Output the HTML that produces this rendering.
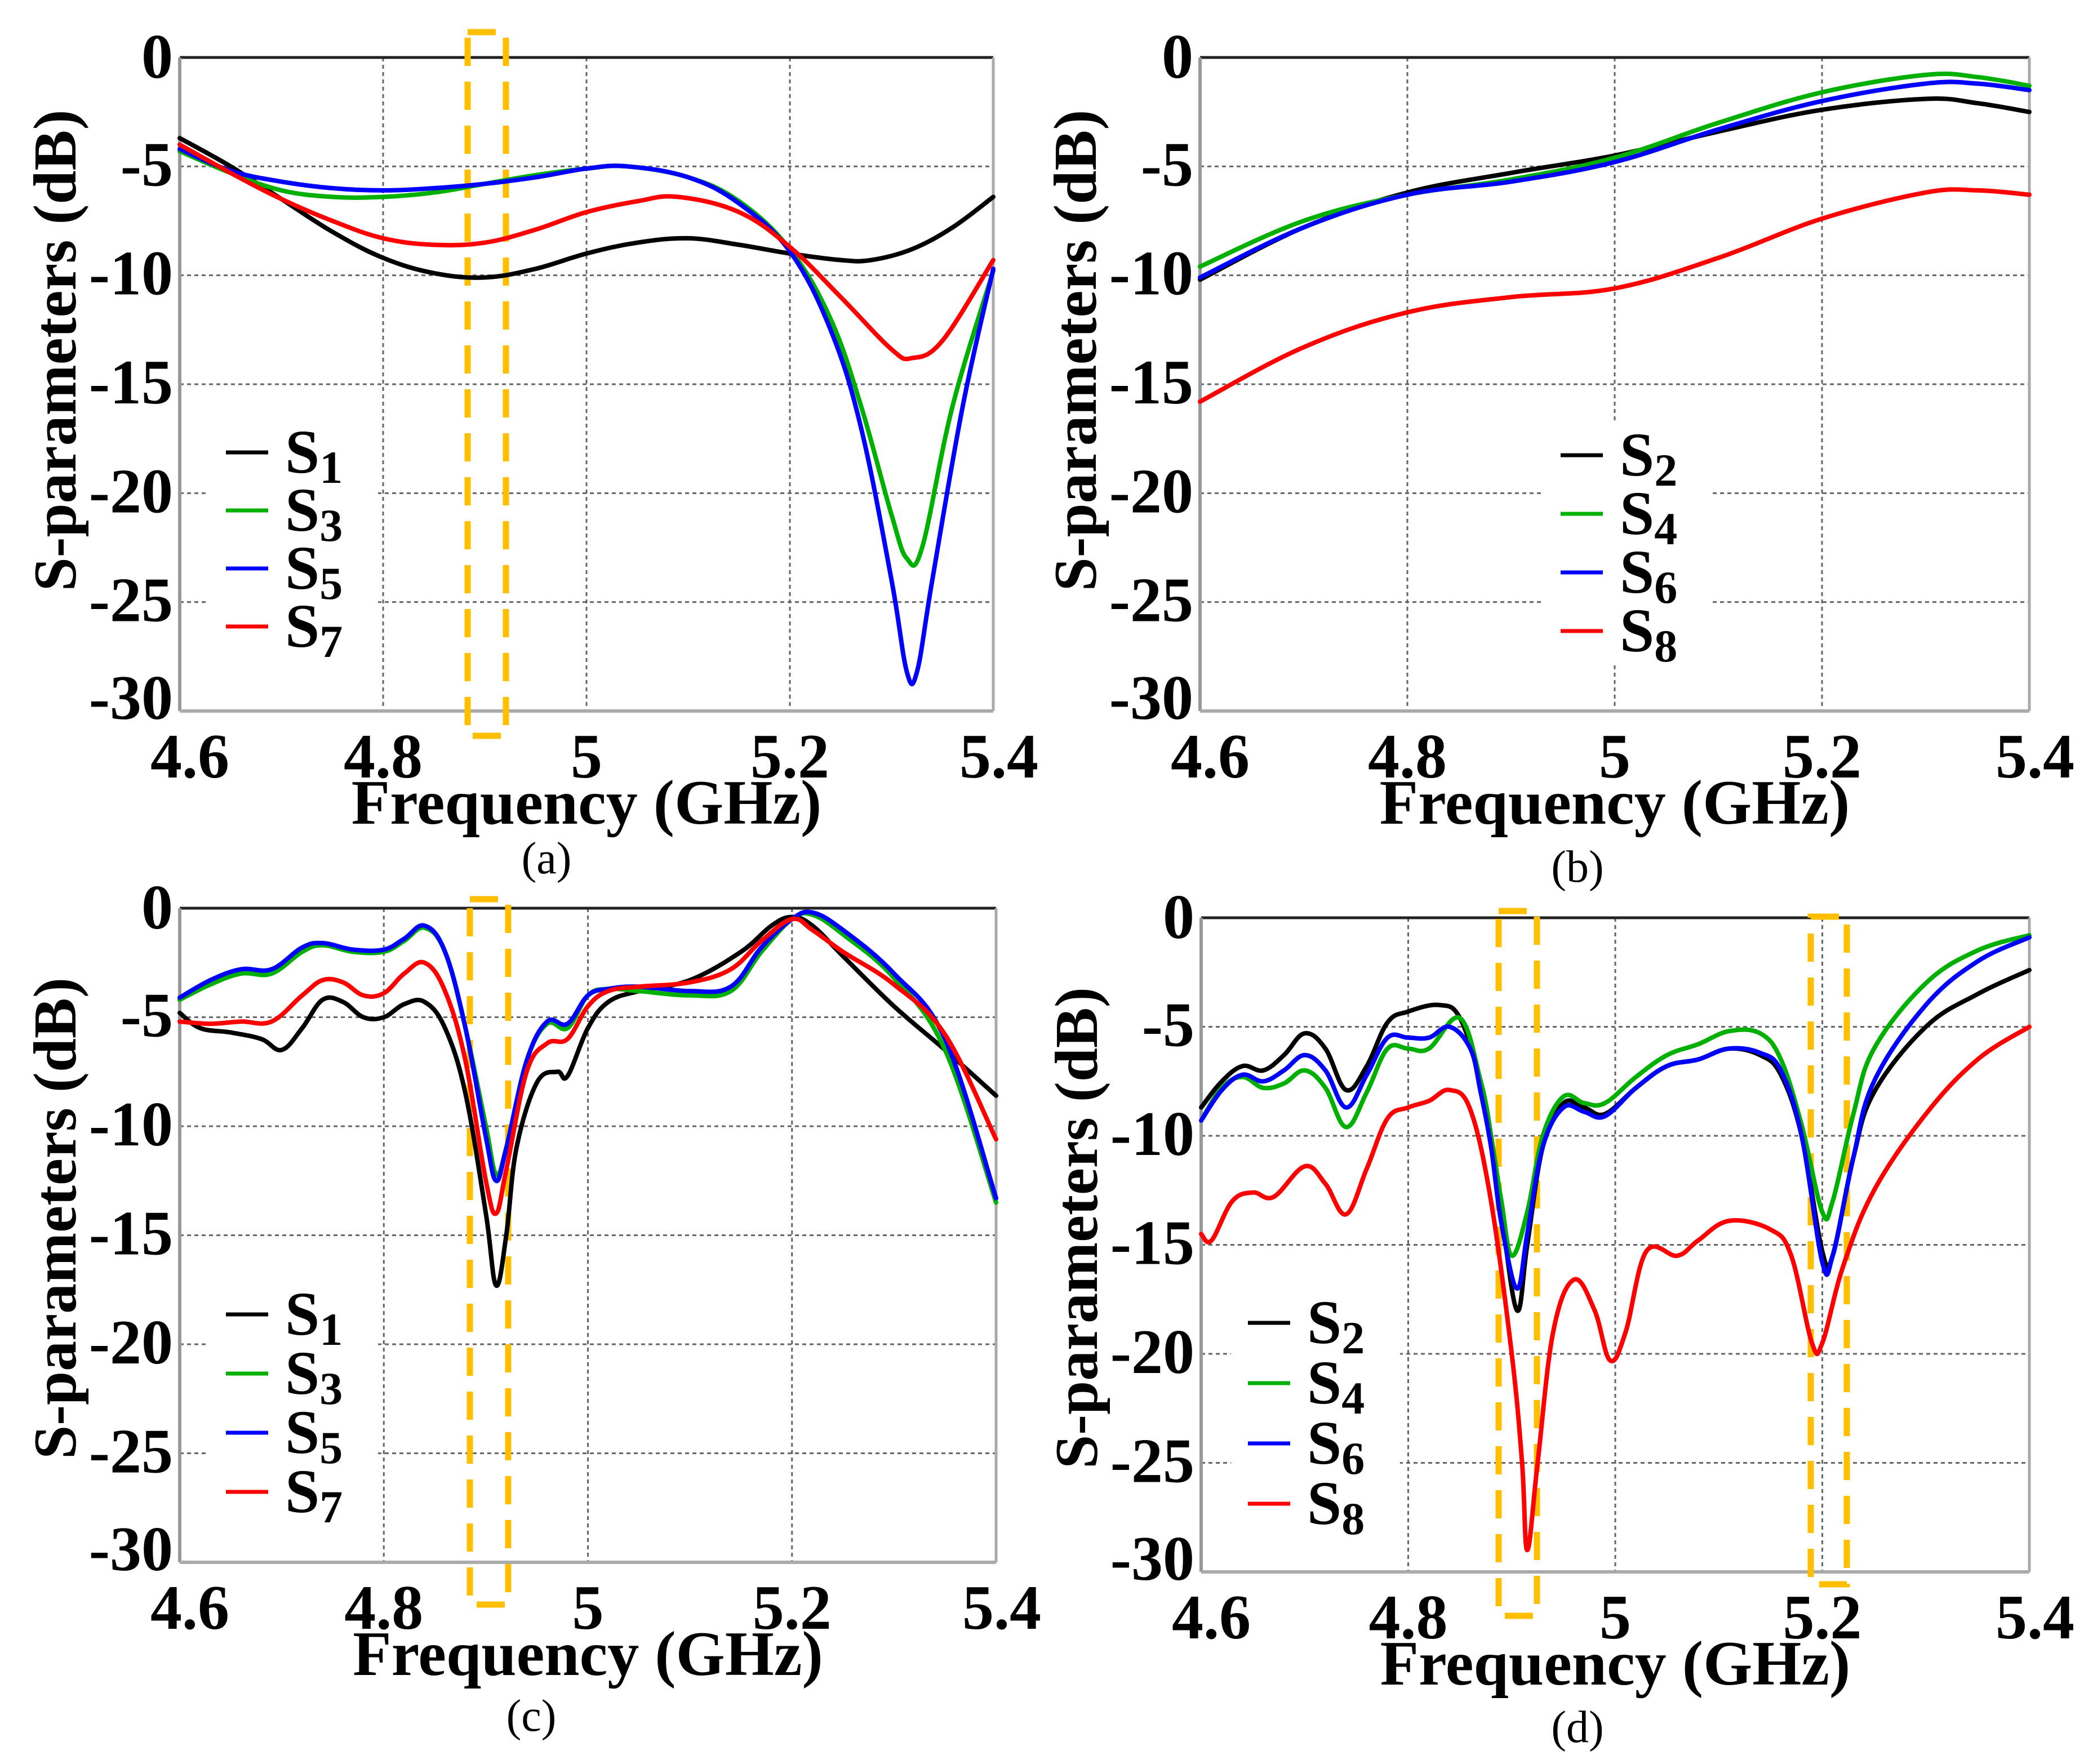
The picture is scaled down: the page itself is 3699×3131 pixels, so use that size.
<!DOCTYPE html>
<html><head><meta charset="utf-8"><style>
html,body{margin:0;padding:0;background:#fff}
svg{display:block}
svg text{font-family:"Liberation Serif","Times New Roman",serif}
</style></head><body>
<svg id="chart" width="3699" height="3131" viewBox="0 0 3699 3131" xmlns="http://www.w3.org/2000/svg" font-family="Liberation Serif, serif">
<rect width="3699" height="3131" fill="#fff"/>
</svg>
<script>
// ---- shared axis data ----
const xTicks = [4.6, 4.8, 5.0, 5.2, 5.4];
const xTickLabels = ["4.6", "4.8", "5", "5.2", "5.4"];
const yTicks = [0, -5, -10, -15, -20, -25, -30];
const yTickLabels = ["0", "-5", "-10", "-15", "-20", "-25", "-30"];

// ---- panel (a) ----
const aS1f = [4.6,4.65,4.7,4.75,4.8,4.85,4.9,4.95,5.0,5.05,5.1,5.15,5.2,5.25,5.28,5.32,5.36,5.4];
const aS1v = [-3.7,-5,-6.5,-8,-9.2,-9.9,-10.1,-9.7,-9,-8.5,-8.3,-8.6,-9.0,-9.3,-9.3,-8.8,-7.8,-6.4];
const aS3f = [4.6,4.65,4.7,4.75,4.8,4.85,4.9,4.95,5.0,5.04,5.1,5.15,5.2,5.24,5.27,5.3,5.315,5.33,5.36,5.4];
const aS3v = [-4.3,-5.3,-6.1,-6.4,-6.4,-6.2,-5.8,-5.4,-5.1,-5.0,-5.5,-6.6,-8.8,-12,-16,-21,-23,-22.5,-16,-9.8];
const aS5f = [4.6,4.65,4.7,4.75,4.8,4.85,4.9,4.95,5.0,5.04,5.1,5.15,5.2,5.24,5.27,5.3,5.315,5.325,5.34,5.37,5.4];
const aS5v = [-4.2,-5.2,-5.7,-6.0,-6.1,-6.0,-5.8,-5.5,-5.1,-5.0,-5.5,-6.7,-8.9,-12.5,-17,-24,-28.2,-28.2,-24,-16,-9.7];
const aS7f = [4.6,4.65,4.7,4.75,4.8,4.85,4.9,4.95,5.0,5.05,5.09,5.15,5.2,5.25,5.3,5.32,5.35,5.4];
const aS7v = [-4.0,-5.3,-6.5,-7.5,-8.3,-8.6,-8.5,-7.9,-7.1,-6.6,-6.4,-7.1,-8.7,-11,-13.4,-13.8,-13.0,-9.3];

// ---- panel (b) ----
const bF = [4.6,4.7,4.8,4.9,5.0,5.1,5.2,5.3,5.35,5.4];
const bS2v = [-10.2,-7.8,-6.2,-5.3,-4.5,-3.4,-2.4,-1.9,-2.1,-2.5];
const bS4v = [-9.6,-7.5,-6.3,-5.6,-4.6,-3.0,-1.6,-0.8,-0.9,-1.3];
const bS6v = [-10.1,-7.8,-6.3,-5.7,-4.8,-3.3,-2.0,-1.2,-1.2,-1.5];
const bS8v = [-15.8,-13.3,-11.7,-11.0,-10.6,-9.2,-7.4,-6.2,-6.1,-6.3];

// ---- panel (c) ----
const cS1f = [4.6,4.62,4.65,4.68,4.7,4.72,4.74,4.76,4.78,4.8,4.82,4.84,4.86,4.88,4.9,4.91,4.92,4.93,4.95,4.97,4.98,5.0,5.02,5.05,5.1,5.15,5.18,5.2,5.22,5.25,5.3,5.35,5.4];
const cS1v = [-4.8,-5.5,-5.7,-6.0,-6.5,-5.5,-4.2,-4.3,-5.0,-5.0,-4.4,-4.3,-5.5,-8.5,-14,-17.3,-15,-11,-8,-7.5,-7.7,-5.5,-4.3,-3.8,-3.3,-2.0,-0.8,-0.4,-0.8,-2.2,-4.5,-6.5,-8.6];
const cF = [4.6,4.63,4.66,4.69,4.72,4.74,4.77,4.8,4.82,4.84,4.86,4.88,4.9,4.91,4.92,4.94,4.96,4.98,5.0,5.02,5.05,5.1,5.14,5.17,5.2,5.22,5.25,5.3,5.35,5.4];
const cS3v = [-4.2,-3.5,-3.0,-3.0,-2.0,-1.7,-2.0,-2.0,-1.5,-0.9,-2,-5.5,-10,-12.2,-11,-7,-5.3,-5.5,-4.0,-3.7,-3.8,-4.0,-3.8,-2.0,-0.5,-0.3,-1.2,-3.2,-6.5,-13.5];
const cS5v = [-4.1,-3.3,-2.8,-2.8,-1.8,-1.6,-1.9,-1.9,-1.4,-0.8,-2,-5.5,-10.5,-12.5,-11,-7,-5.2,-5.3,-4.0,-3.7,-3.6,-3.8,-3.6,-1.8,-0.5,-0.2,-1.0,-3.0,-6.0,-13.3];
const cS7f = [4.6,4.63,4.66,4.69,4.72,4.74,4.76,4.78,4.8,4.82,4.84,4.86,4.88,4.9,4.91,4.92,4.94,4.96,4.98,5.0,5.02,5.05,5.1,5.14,5.17,5.2,5.22,5.25,5.3,5.35,5.4];
const cS7v = [-5.2,-5.3,-5.2,-5.2,-4.0,-3.3,-3.4,-4.0,-3.9,-3.0,-2.5,-3.8,-7,-12.5,-14,-12,-7.5,-6.2,-6.0,-4.5,-3.8,-3.6,-3.4,-2.8,-1.5,-0.5,-1.0,-2.0,-3.5,-5.8,-10.6];

// ---- panel (d) ----
const dS2f = [4.6,4.62,4.64,4.66,4.68,4.70,4.72,4.74,4.76,4.78,4.8,4.83,4.85,4.87,4.88,4.89,4.905,4.915,4.93,4.95,4.97,4.99,5.02,5.05,5.08,5.11,5.14,5.16,5.18,5.2,5.21,5.23,5.25,5.3,5.35,5.4];
const dS2v = [-8.7,-7.5,-6.8,-7.0,-6.3,-5.3,-6.0,-7.9,-6.8,-4.8,-4.3,-4.0,-4.6,-7.5,-10,-13.5,-18,-15,-10.5,-8.5,-8.7,-9.0,-7.8,-6.8,-6.5,-6.0,-6.3,-7.2,-10,-15.3,-15.5,-11,-8,-5.0,-3.5,-2.4];
const dS4f = [4.6,4.62,4.64,4.66,4.68,4.70,4.72,4.74,4.76,4.78,4.8,4.82,4.85,4.87,4.88,4.89,4.9,4.915,4.93,4.95,4.97,4.99,5.02,5.05,5.08,5.11,5.14,5.16,5.18,5.2,5.21,5.23,5.25,5.3,5.35,5.4];
const dS4v = [-9.3,-7.8,-7.3,-7.8,-7.6,-7.0,-7.8,-9.6,-8.0,-6.0,-6.0,-6.0,-4.6,-7.5,-10,-13,-15.5,-13.5,-10.0,-8.2,-8.5,-8.5,-7.3,-6.3,-5.8,-5.2,-5.3,-6.5,-9.5,-13.5,-13,-9,-6,-3.0,-1.5,-0.8];
const dS6f = [4.6,4.62,4.64,4.66,4.68,4.70,4.72,4.74,4.76,4.78,4.8,4.82,4.84,4.86,4.87,4.88,4.89,4.905,4.915,4.93,4.95,4.97,4.99,5.02,5.05,5.08,5.11,5.14,5.16,5.18,5.2,5.21,5.23,5.25,5.3,5.35,5.4];
const dS6v = [-9.3,-7.9,-7.2,-7.5,-7.0,-6.3,-7.0,-8.7,-7.2,-5.5,-5.5,-5.5,-5.0,-6.0,-8,-10.5,-14,-17,-14.5,-10.5,-8.7,-8.9,-9.1,-7.8,-6.8,-6.5,-6.0,-6.2,-7.0,-10,-15.8,-15.5,-11,-7.5,-4,-2.0,-0.9];
const dS8f = [4.6,4.61,4.63,4.65,4.67,4.7,4.72,4.74,4.76,4.78,4.8,4.82,4.84,4.86,4.88,4.9,4.91,4.915,4.925,4.94,4.96,4.98,4.995,5.01,5.03,5.06,5.08,5.11,5.15,5.17,5.19,5.2,5.22,5.25,5.3,5.35,5.4];
const dS8v = [-14.5,-14.8,-13.0,-12.6,-12.8,-11.4,-12.2,-13.6,-11.5,-9.2,-8.7,-8.4,-7.9,-8.8,-13,-20,-25,-29,-25,-19,-16.6,-18.0,-20.3,-19,-15.3,-15.5,-14.8,-13.9,-14.3,-15.5,-19.5,-19.5,-16,-12.5,-9.0,-6.5,-5.0];

const NS = "http://www.w3.org/2000/svg";
const svg = document.getElementById('chart');
const FONT = "Liberation Serif, serif";
function mk(tag, attrs, parent){ const e=document.createElementNS(NS,tag); for(const k in attrs) e.setAttribute(k,attrs[k]); if(tag==='text') e.setAttribute('font-family',FONT); (parent||svg).appendChild(e); return e; }
const COL = {k:"#000", g:"#00b000", b:"#0000ff", r:"#ff0000"};

function smoothPath(P){
  let d = "M"+P[0][0].toFixed(1)+","+P[0][1].toFixed(1);
  for(let i=0;i<P.length-1;i++){
    const p0=P[i-1]||P[i], p1=P[i], p2=P[i+1], p3=P[i+2]||P[i+1];
    const t=0.18;
    const c1=[p1[0]+(p2[0]-p0[0])*t, p1[1]+(p2[1]-p0[1])*t];
    const c2=[p2[0]-(p3[0]-p1[0])*t, p2[1]-(p3[1]-p1[1])*t];
    d+=" C"+c1[0].toFixed(1)+","+c1[1].toFixed(1)+" "+c2[0].toFixed(1)+","+c2[1].toFixed(1)+" "+p2[0].toFixed(1)+","+p2[1].toFixed(1);
  }
  return d;
}

function panel(cfg){
  const g = mk('g',{});
  
  
  const L=cfg.l,R=cfg.r,T=cfg.t,B=cfg.b;
  const xs = f => L + (f-4.6)/(0.8)*(R-L);
  const ys = v => T + (-v)/30*(B-T);
  [4.8,5.0,5.2].forEach(f=>{ const e=mk('line',{x1:xs(f),x2:xs(f),y1:T,y2:B,stroke:"#666","stroke-width":3,"stroke-dasharray":"7 6"},g);
      });
  [-5,-10,-15,-20,-25].forEach(v=>{ const e=mk('line',{x1:L,x2:R,y1:ys(v),y2:ys(v),stroke:"#666","stroke-width":3,"stroke-dasharray":"7 6"},g);
      });
  const lg = cfg.leg;
  const lb = mk('rect',{x:lg.x-30,y:lg.y0-60,width:300,height:lg.dy*3+120,fill:"#fff"},g);
   
  mk('line',{x1:L,x2:R,y1:T,y2:T,stroke:"#222","stroke-width":5},g);
  mk('line',{x1:L,x2:L,y1:T,y2:B,stroke:"#999","stroke-width":6},g);
  mk('line',{x1:R,x2:R,y1:T,y2:B,stroke:"#aaa","stroke-width":5},g);
  mk('line',{x1:L,x2:R,y1:B,y2:B,stroke:"#aaa","stroke-width":6},g);
  (cfg.boxes||[]).forEach(bx=>{
    const e=mk('rect',{x:bx[0],y:bx[1],width:bx[2]-bx[0],height:bx[3]-bx[1],fill:"none",stroke:"#ffbf00","stroke-width":11,"stroke-dasharray":"50 28"},g);
     
  });
  cfg.series.forEach(s=>{
    const P = s.f.map((f,i)=>[xs(f), ys(s.v[i])]);
    const e=mk('path',{d:smoothPath(P),fill:"none",stroke:COL[s.c],"stroke-width":8,"stroke-linejoin":"round","stroke-linecap":"round"},g);
    
    
  });
  cfg.series.forEach((s,i)=>{
    const y = lg.y0 + i*lg.dy;
    const ln=mk('line',{x1:lg.x,x2:lg.x+75,y1:y,y2:y,stroke:COL[s.c],"stroke-width":7},g);
     
    const t=mk('text',{x:lg.x+105,y:y+36,"font-size":110,"font-weight":"bold"},g);
     
    t.appendChild(document.createTextNode("S"));
    const sub=document.createElementNS(NS,'tspan'); sub.setAttribute('font-size',82); sub.setAttribute('dy',18); sub.textContent=s.label.slice(1);
    t.appendChild(sub);
  });
  xTicks.forEach((f,i)=>{ const t=mk('text',{x:xs(f)+(i==0?18:(i==4?10:0)),y:B+118,"font-size":112,"font-weight":"bold","text-anchor":"middle"},g);
    t.textContent=xTickLabels[i];   });
  yTicks.forEach((v,i)=>{ const t=mk('text',{x:L-12,y:ys(v)+(i==6?14:(i==0?36:34)),"font-size":112,"font-weight":"bold","text-anchor":"end"},g);
    t.textContent=yTickLabels[i];   });
  const xt=mk('text',{x:(L+R)/2,y:B+200,"font-size":112,"font-weight":"bold","text-anchor":"middle"},g);
  xt.textContent="Frequency (GHz)";  
  const yc=(T+B)/2+(cfg.ytOff||0);
  const yt=mk('text',{x:L-185,y:yc,"font-size":108,"font-weight":"bold","text-anchor":"middle",transform:`rotate(-90 ${L-185} ${yc})`},g);
  yt.textContent="S-parameters (dB)";  
  const cp=mk('text',{x:cfg.cap[0],y:cfg.cap[1],"font-size":80,"text-anchor":"middle"},g);
  cp.textContent=cfg.capText;  
}

panel({name:'panel-a',l:319,r:1763,t:102,b:1262,cap:[970,1550],capText:"(a)",ytOff:-60,
  leg:{x:401,y0:803,dy:103},
  boxes:[[830,57,898,1306]],
  series:[{label:"S1",c:"k",f:aS1f,v:aS1v},{label:"S3",c:"g",f:aS3f,v:aS3v},{label:"S5",c:"b",f:aS5f,v:aS5v},{label:"S7",c:"r",f:aS7f,v:aS7v}]});
panel({name:'panel-b',l:2130,r:3602,t:102,b:1262,cap:[2800,1565],capText:"(b)",ytOff:-60,
  leg:{x:2770,y0:808,dy:104},
  series:[{label:"S2",c:"k",f:bF,v:bS2v},{label:"S4",c:"g",f:bF,v:bS4v},{label:"S6",c:"b",f:bF,v:bS6v},{label:"S8",c:"r",f:bF,v:bS8v}]});
panel({name:'panel-c',l:319,r:1768,t:1612,b:2773,cap:[943,3072],capText:"(c)",ytOff:-30,
  leg:{x:401,y0:2333,dy:105},
  boxes:[[834,1596,902,2848]],
  series:[{label:"S1",c:"k",f:cS1f,v:cS1v},{label:"S3",c:"g",f:cF,v:cS3v},{label:"S5",c:"b",f:cF,v:cS5v},{label:"S7",c:"r",f:cS7f,v:cS7v}]});
panel({name:'panel-d',l:2132,r:3602,t:1629,b:2790,cap:[2800,3092],capText:"(d)",ytOff:-30,
  leg:{x:2215,y0:2348,dy:107},
  boxes:[[2660,1617,2728,2868],[3214,1627,3278,2812]],
  series:[{label:"S2",c:"k",f:dS2f,v:dS2v},{label:"S4",c:"g",f:dS4f,v:dS4v},{label:"S6",c:"b",f:dS6f,v:dS6v},{label:"S8",c:"r",f:dS8f,v:dS8v}]});
</script>
</body></html>
